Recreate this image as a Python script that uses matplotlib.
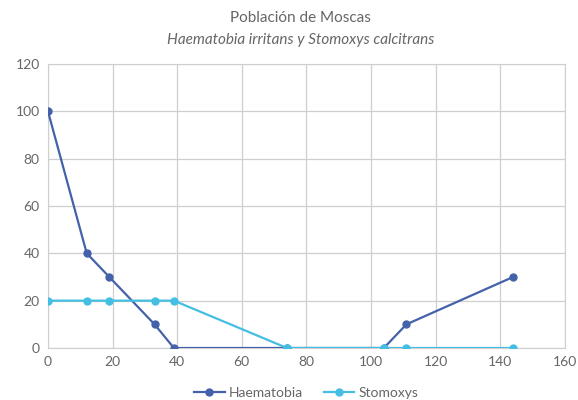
import matplotlib
matplotlib.use('Agg')
import matplotlib.pyplot as plt

# Data
dias = [0, 12, 19, 33, 39, 74, 104, 111, 144]
haematobia = [100, 40, 30, 10, 0, 0, 0, 10, 30]
stomoxys = [20, 20, 20, 20, 20, 0, 0, 0, 0]

x_ticks = [0, 20, 40, 60, 80, 100, 120, 140, 160]
y_ticks = [0, 20, 40, 60, 80, 100, 120]

text_color = '#666666'
plt.rcParams['font.family'] = ['Lato', 'DejaVu Sans']

fig = plt.figure(figsize=(5.78, 4.0), dpi=100)
ax = fig.add_axes([0.083, 0.13, 0.894, 0.71])

ax.plot(dias, haematobia, color='#4462AA', linewidth=1.6, marker='o', markersize=5, label='Haematobia', zorder=3)
ax.plot(dias, stomoxys, color='#44BFE3', linewidth=1.6, marker='o', markersize=5, label='Stomoxys', zorder=4)

ax.set_xlim(0, 160)
ax.set_ylim(0, 120)
ax.set_xticks(x_ticks)
ax.set_yticks(y_ticks)
ax.grid(True, color='#CFCFCF', linewidth=0.9)
ax.set_axisbelow(True)
for s in ax.spines.values():
    s.set_color('#CFCFCF')
ax.tick_params(length=0, colors=text_color, labelsize=10, pad=6)

fig.text(0.52, 0.955, 'Población de Moscas', ha='center', va='center', fontsize=11, color=text_color)
fig.text(0.52, 0.9, 'Haematobia irritans y Stomoxys calcitrans', ha='center', va='center',
         fontsize=11, color=text_color, style='italic')

leg = fig.legend(loc='center', bbox_to_anchor=(0.53, 0.018), ncol=2, frameon=False,
                 fontsize=10, handlelength=2.2, columnspacing=1.5, handletextpad=0.3)
for t in leg.get_texts():
    t.set_color(text_color)

fig.savefig('out.png', dpi=100)
